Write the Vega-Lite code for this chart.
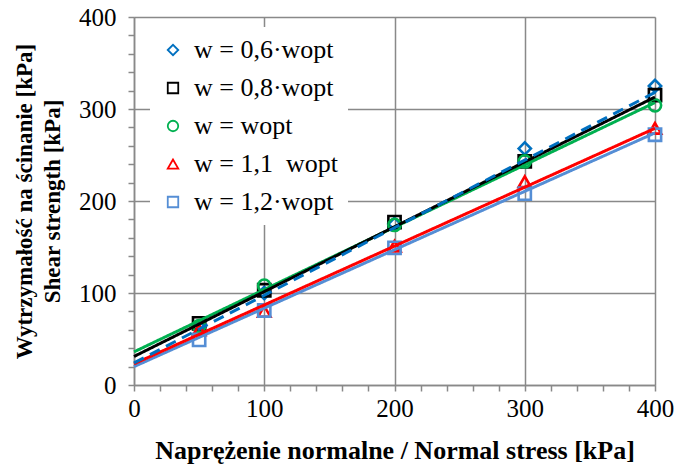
{
  "$schema": "https://vega.github.io/schema/vega-lite/v6.json",
  "autosize": {"type": "none"},
  "width": 521,
  "height": 368,
  "padding": {"left": 134, "top": 17, "right": 23, "bottom": 86},
  "background": "white",
  "datasets": {
    "pts": [
      {"series": "w = 0,6·wopt", "x": 50, "y": 63},
      {"series": "w = 0,6·wopt", "x": 100, "y": 100},
      {"series": "w = 0,6·wopt", "x": 200, "y": 175},
      {"series": "w = 0,6·wopt", "x": 300, "y": 257},
      {"series": "w = 0,6·wopt", "x": 400, "y": 325},
      {"series": "w = 0,8·wopt", "x": 50, "y": 67},
      {"series": "w = 0,8·wopt", "x": 100, "y": 103},
      {"series": "w = 0,8·wopt", "x": 200, "y": 177},
      {"series": "w = 0,8·wopt", "x": 300, "y": 243},
      {"series": "w = 0,8·wopt", "x": 400, "y": 315},
      {"series": "w = wopt", "x": 50, "y": 64},
      {"series": "w = wopt", "x": 100, "y": 108},
      {"series": "w = wopt", "x": 200, "y": 174},
      {"series": "w = wopt", "x": 300, "y": 243},
      {"series": "w = wopt", "x": 400, "y": 304},
      {"series": "w = 1,1  wopt", "x": 50, "y": 60},
      {"series": "w = 1,1  wopt", "x": 100, "y": 80},
      {"series": "w = 1,1  wopt", "x": 200, "y": 151},
      {"series": "w = 1,1  wopt", "x": 300, "y": 221},
      {"series": "w = 1,1  wopt", "x": 400, "y": 279},
      {"series": "w = 1,2·wopt", "x": 50, "y": 49},
      {"series": "w = 1,2·wopt", "x": 100, "y": 81},
      {"series": "w = 1,2·wopt", "x": 200, "y": 149},
      {"series": "w = 1,2·wopt", "x": 300, "y": 208},
      {"series": "w = 1,2·wopt", "x": 400, "y": 272}
    ],
    "lines": [
      {"series": "w = 1,2·wopt", "x": 0, "y": 20},
      {"series": "w = 1,2·wopt", "x": 400, "y": 274},
      {"series": "w = 1,1  wopt", "x": 0, "y": 23},
      {"series": "w = 1,1  wopt", "x": 400, "y": 279},
      {"series": "w = wopt", "x": 0, "y": 36},
      {"series": "w = wopt", "x": 400, "y": 307},
      {"series": "w = 0,8·wopt", "x": 0, "y": 31},
      {"series": "w = 0,8·wopt", "x": 400, "y": 313},
      {"series": "w = 0,6·wopt", "x": 0, "y": 24},
      {"series": "w = 0,6·wopt", "x": 400, "y": 318}
    ]
  },
  "encoding": {
    "x": {
      "field": "x", "type": "quantitative",
      "scale": {"domain": [0, 400], "nice": false},
      "axis": {
        "title": "Naprężenie normalne / Normal stress [kPa]",
        "values": [0,20,40,60,80,100,120,140,160,180,200,220,240,260,280,300,320,340,360,380,400],
        "labelExpr": "(datum.value % 100 == 0) ? datum.label : ''",
        "gridOpacity": {"condition": {"test": "datum.value % 100 == 0", "value": 1}, "value": 0},
        "labelOverlap": false,
        "labelFont": "Liberation Serif",
        "labelFontSize": 25,
        "labelColor": "black",
        "titleFont": "Liberation Serif",
        "titleFontSize": 26,
        "titleFontWeight": "bold",
        "titleColor": "black",
        "domainColor": "#898989",
        "domainWidth": 1.5,
        "tickColor": "#898989",
        "tickWidth": 1.5,
        "tickSize": 6,
        "gridColor": "#898989",
        "gridWidth": 1.5,
        "labelPadding": 5,
        "titlePadding": 16,
        "labelFlush": false
      }
    },
    "y": {
      "field": "y", "type": "quantitative",
      "scale": {"domain": [0, 400], "nice": false},
      "axis": {
        "title": ["Wytrzymałość na ścinanie [kPa]", "Shear strength [kPa]"],
        "values": [0,20,40,60,80,100,120,140,160,180,200,220,240,260,280,300,320,340,360,380,400],
        "labelExpr": "(datum.value % 100 == 0) ? datum.label : ''",
        "gridOpacity": {"condition": {"test": "datum.value % 100 == 0", "value": 1}, "value": 0},
        "labelOverlap": false,
        "labelFont": "Liberation Serif",
        "labelFontSize": 25,
        "labelColor": "black",
        "titleFont": "Liberation Serif",
        "titleFontSize": 23,
        "titleFontWeight": "bold",
        "titleColor": "black",
        "domainColor": "#898989",
        "domainWidth": 1.5,
        "tickColor": "#898989",
        "tickWidth": 1.5,
        "tickSize": 6,
        "gridColor": "#898989",
        "gridWidth": 1.5,
        "labelPadding": 12,
        "titlePadding": 14,
        "titleLineHeight": 28,
        "labelFlush": false
      }
    }
  },
  "layer": [
    {
      "data": {"name": "pts"},
      "mark": {"type": "point", "filled": false, "size": 150, "strokeWidth": 2.6, "opacity": 1},
      "encoding": {
        "color": {
          "field": "series", "type": "nominal",
          "scale": {
            "domain": ["w = 0,6·wopt", "w = 0,8·wopt", "w = wopt", "w = 1,1  wopt", "w = 1,2·wopt"],
            "range": ["#0070C0", "#000000", "#00B050", "#FF0000", "#558ED5"]
          },
          "legend": {
            "title": null,
            "orient": "none",
            "legendX": 16,
            "legendY": 10,
            "fillColor": "white",
            "strokeColor": null,
            "padding": 10,
            "rowPadding": 12,
            "symbolSize": 110,
            "symbolStrokeWidth": 1.8,
            "labelOffset": 8,
            "labelFont": "Liberation Serif",
            "labelFontSize": 26,
            "labelColor": "black",
            "labelLimit": 400,
            "labelExpr": "replace(datum.label, '1,1  wopt', '1,1\u00a0\u00a0wopt')"
          }
        },
        "shape": {
          "field": "series", "type": "nominal",
          "scale": {
            "domain": ["w = 0,6·wopt", "w = 0,8·wopt", "w = wopt", "w = 1,1  wopt", "w = 1,2·wopt"],
            "range": ["diamond", "square", "circle", "triangle-up", "square"]
          },
          "legend": null
        }
      }
    },
    {
      "data": {"name": "lines"},
      "mark": {"type": "line", "strokeWidth": 3},
      "encoding": {
        "detail": {"field": "series"},
        "stroke": {
          "field": "series", "type": "nominal",
          "scale": {
            "domain": ["w = 1,2·wopt", "w = 1,1  wopt", "w = wopt", "w = 0,8·wopt", "w = 0,6·wopt"],
            "range": ["#558ED5", "#FF0000", "#00B050", "#000000", "#0070C0"]
          },
          "legend": null
        },
        "strokeDash": {
          "field": "series", "type": "nominal",
          "scale": {
            "domain": ["w = 1,2·wopt", "w = 1,1  wopt", "w = wopt", "w = 0,8·wopt", "w = 0,6·wopt"],
            "range": [[1, 0], [1, 0], [1, 0], [1, 0], [11, 7]]
          },
          "legend": null
        }
      }
    }
  ]
}
